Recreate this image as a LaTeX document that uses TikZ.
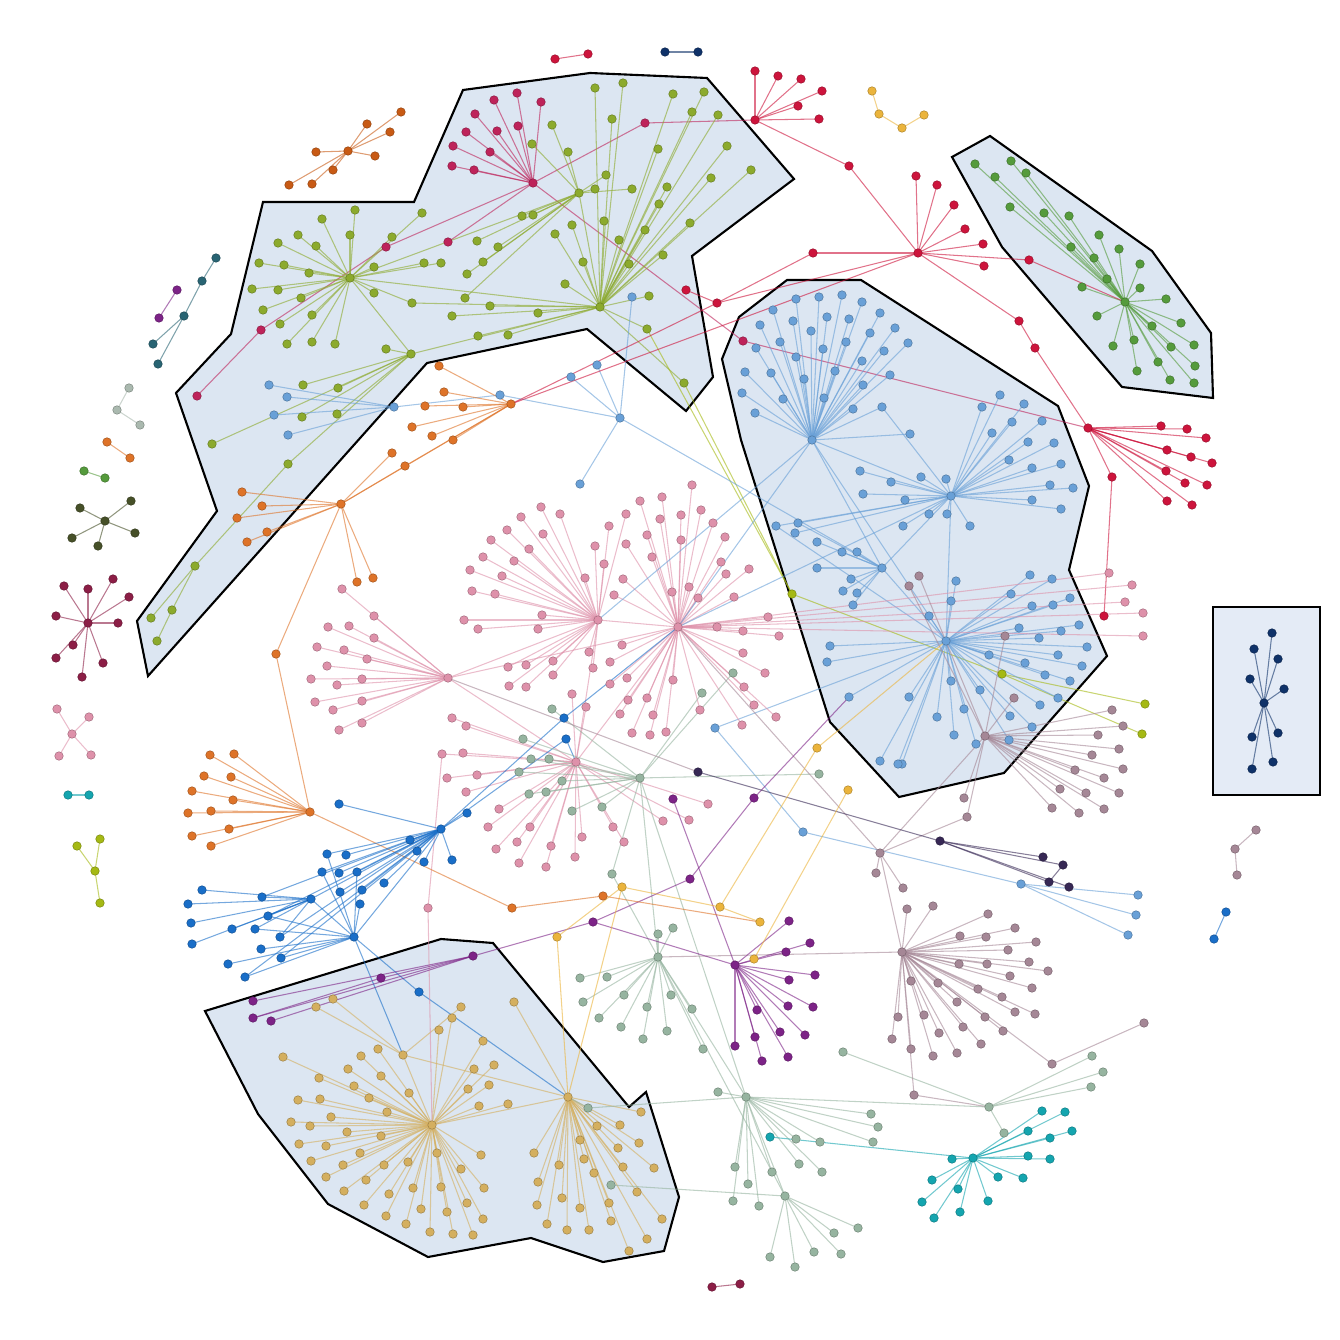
\documentclass[tikz,border=0pt]{standalone}

\definecolor{crimson}{RGB}{205,20,60}
\definecolor{rose}{RGB}{190,35,90}
\definecolor{olive}{RGB}{140,170,45}
\definecolor{leaf}{RGB}{85,155,60}
\definecolor{sky}{RGB}{105,160,215}
\definecolor{blush}{RGB}{222,145,170}
\definecolor{amber}{RGB}{222,115,40}
\definecolor{rust}{RGB}{200,90,20}
\definecolor{cobalt}{RGB}{25,110,200}
\definecolor{sand}{RGB}{212,175,95}
\definecolor{sage}{RGB}{150,180,160}
\definecolor{mauve}{RGB}{165,135,150}
\definecolor{plum}{RGB}{125,35,135}
\definecolor{lagoon}{RGB}{20,165,175}
\definecolor{ink}{RGB}{15,50,105}
\definecolor{dusk}{RGB}{55,40,85}
\definecolor{honey}{RGB}{235,180,60}
\definecolor{lime}{RGB}{165,185,20}
\definecolor{slate}{RGB}{40,100,115}
\definecolor{ash}{RGB}{170,185,175}
\definecolor{moss}{RGB}{70,80,40}
\definecolor{wine}{RGB}{140,30,70}
\definecolor{hullfill}{RGB}{220,230,242}
\definecolor{boxfill}{RGB}{228,235,246}

\tikzset
{
  dot/.style={circle,inner sep=0pt,minimum size=0.085cm,fill=#1,draw=#1!75!black,line width=0.15pt},
  link/.style={draw=#1,line width=0.3pt,draw opacity=0.6},
  hull/.style={draw=black,line width=0.6pt,fill=hullfill,line join=miter}
}

% three passes over the same data: points, links, dots
% cluster: name, colour, hub x, hub y, leaves x/y
\newcommand\clusterpoints[5]{%
  \coordinate (#1) at (#3,#4);
  \foreach \x/\y [count=\i] in {#5} \coordinate (#1-\i) at (\x,\y);}
\newcommand\clusterlinks[5]{%
  \foreach \x/\y [count=\i] in {#5} \draw[link=#2] (#1) -- (#1-\i);}
\newcommand\clusterdots[5]{%
  \node[dot=#2] (#1 dot) at (#1) {};
  \foreach \x/\y [count=\i] in {#5} \node[dot=#2] (#1-\i dot) at (#1-\i) {};}
% single: name, colour, x, y
\newcommand\singlepoint[4]{\coordinate (#1) at (#3,#4);}
\newcommand\singledot[4]{\node[dot=#2] (#1 dot) at (#1) {};}
% extra links: colour, pairs a/b
\newcommand\extralinks[2]{\foreach \a/\b in {#2} \draw[link=#1] (\a) -- (\b);}
\newcommand\skipfour[4]{}
\newcommand\skiptwo[2]{}

\newcommand\graphdata{%
  % crimson
  \cluster{ca}{rose}{533}{183}{517/93, 494/100, 541/102, 475/114, 497/131, 518/126, 466/132, 453/146,
    490/152, 452/166, 474/170, 448/242, 645/123}
  \cluster{cc}{crimson}{755}{120}{755/71, 778/76, 801/79, 822/91, 798/106, 819/119, 849/166}
  \cluster{cd}{crimson}{918}{253}{916/176, 937/185, 954/205, 965/229, 983/244, 984/266, 813/253,
    1029/260, 1019/321}
  \cluster{cf}{crimson}{1088}{428}{1161/426, 1187/429, 1206/438, 1167/450, 1191/457, 1212/463,
    1166/471, 1185/483, 1207/485, 1167/501, 1192/505, 1112/477}
  \single{c1}{rose}{386}{247}
  \single{c2}{rose}{261}{330}
  \single{c3}{rose}{197}{396}
  \single{cx}{rose}{743}{341}
  \single{c4}{crimson}{1035}{348}
  \single{ce1}{crimson}{717}{303}
  \single{ce2}{crimson}{686}{290}
  \single{cg}{crimson}{1104}{616}
  \links{rose}{ca/c1, c1/c2, c2/c3, ca/cx, cx/cf, ca-13/cc}
  \links{crimson}{cc-7/cd, cd-9/c4, c4/cf, cd-7/ce1, cd/ce1, ce1/ce2, cf-12/cg}
  % olive
  \cluster{oa}{olive}{350}{278}{355/210, 322/219, 298/235, 350/235, 278/243, 316/246, 259/263,
    284/265, 309/273, 374/267, 252/289, 278/290, 301/298, 374/293, 263/310, 312/315, 280/324,
    412/303, 287/344, 312/342, 335/344, 392/237, 422/213, 424/263, 441/263}
  \cluster{ob}{olive}{600}{307}{565/284, 583/262, 538/313, 490/306, 508/335, 478/336, 452/316,
    604/221, 619/240, 629/264, 645/230, 663/255, 690/223, 711/178, 751/170, 649/296, 647/329,
    684/383, 727/146, 718/115, 692/112, 704/92, 673/94, 667/187, 658/149, 659/204, 623/83,
    595/88, 612/119, 572/225, 555/234}
  \cluster{oc}{olive}{579}{193}{522/216, 533/215, 532/144, 552/125, 568/152, 498/247, 483/262,
    477/241, 467/274, 465/298, 595/189, 606/175, 632/189}
  \cluster{od}{olive}{411}{354}{386/349, 303/385, 338/388, 302/417, 337/414, 212/444, 288/464}
  \single{o2}{olive}{195}{566}
  \single{o3}{olive}{172}{610}
  \single{o4}{olive}{151}{618}
  \single{o5}{olive}{157}{641}
  \links{olive}{oa/ob, oa/oc, ob/oc, od/ob, od/oa, od-7/o2, o2/o3, o2/o4, o3/o5, oa-18/ob}
  \single{v1}{lime}{792}{594}
  \single{v2}{lime}{1002}{674}
  \single{v3}{lime}{1145}{704}
  \single{v4}{lime}{1142}{734}
  \links{lime}{ob-18/v1, v1/v2, v2/v3, v2/v4, ob-17/v1}
  % green
  \cluster{gr}{leaf}{1125}{302}{975/164, 1011/161, 995/177, 1026/173, 1010/207, 1044/213, 1069/216,
    1099/235, 1119/249, 1071/247, 1094/258, 1140/264, 1107/279, 1082/287, 1140/288, 1166/299,
    1097/316, 1181/323, 1152/326, 1134/340, 1113/346, 1194/345, 1171/347, 1158/362, 1195/366,
    1137/371, 1170/380, 1194/383}
  \links{crimson}{cd-8/gr}
  % sky blue
  \cluster{ba}{sky}{812}{440}{796/299, 819/297, 842/295, 862/302, 773/310, 793/321, 827/317,
    849/319, 880/313, 895/328, 760/325, 811/331, 870/333, 780/342, 846/342, 756/348, 823/349,
    884/351, 796/357, 862/361, 745/372, 771/373, 835/371, 890/375, 804/379, 742/393, 863/385,
    783/399, 824/398, 882/407, 755/413, 853/409, 910/434, 908/343}
  \cluster{bb}{sky}{951}{496}{1009/460, 1032/468, 1061/464, 1050/485, 1073/488, 1032/500, 1061/509,
    921/477, 946/479, 905/500, 929/514, 947/514, 903/526, 970/526, 1000/395, 1024/404, 982/407,
    1042/421, 1012/422, 992/433, 1028/442, 1054/443, 776/526, 798/523, 795/533, 860/471,
    863/494, 891/482}
  \cluster{bc}{sky}{946}{641}{1030/575, 1052/579, 1011/594, 951/601, 956/581, 929/616, 1032/606,
    1053/605, 1070/598, 1019/628, 1061/631, 1079/625, 1039/638, 1087/647, 989/655, 1058/655,
    1025/663, 1082/666, 1045/675, 1070/681, 951/681, 980/690, 1058/698, 909/697, 964/709,
    1040/705, 937/717, 1010/716, 1032/727, 954/735, 976/744, 1009/740, 902/764, 830/646,
    827/662, 849/697, 880/761, 898/764}
  \cluster{bd}{sky}{882}{568}{817/542, 842/552, 857/552, 817/568, 851/579, 843/591, 857/593, 853/605}
  \cluster{la}{sky}{620}{418}{580/484, 571/377, 597/365, 632/297}
  \cluster{lb}{sky}{394}{407}{269/385, 287/397, 274/415, 288/435, 500/395}
  \cluster{lc}{sky}{1021}{884}{1138/895, 1136/915, 1128/935, 803/832}
  \single{l1}{sky}{715}{728}
  \links{sky}{ba/bb, ba/bc, bb/bc, bb/bd, bd/bc, la/lb-5, la/bd, l1/bc, bb-23/bc, bb-24/bd,
    ba-30/bb, ba/bd, lc-4/l1}
  % pink
  \cluster{pa}{blush}{448}{678}{342/589, 374/616, 328/627, 349/626, 374/638, 317/647, 344/650,
    367/659, 327/666, 311/679, 337/685, 362/679, 315/702, 333/710, 362/701, 339/730, 362/723}
  \cluster{pb}{blush}{598}{620}{521/517, 541/507, 560/514, 529/549, 543/534, 514/561, 502/576,
    491/540, 483/557, 470/570, 472/591, 495/594, 507/530, 542/615, 538/629, 585/578, 595/546,
    604/564, 609/526, 626/514, 464/620, 478/629, 508/667, 526/665, 553/661, 553/675, 509/686,
    526/687, 589/652, 593/668}
  \cluster{pc}{blush}{678}{627}{662/497, 681/515, 660/519, 701/510, 713/523, 692/485, 647/535,
    681/540, 725/537, 652/557, 721/562, 749/569, 689/587, 726/574, 672/592, 698/598, 734/597,
    768/617, 717/627, 743/631, 779/636, 743/653, 765/673, 744/687, 754/705, 776/717, 742/725,
    700/710, 673/680, 666/732, 650/735, 632/733, 647/698, 628/700, 627/678, 620/714, 653/715,
    610/684, 622/645, 610/662, 626/544, 623/579, 614/595, 640/501, 1109/573, 1132/585,
    1125/602, 1143/613, 1143/636}
  \cluster{pd}{blush}{576}{762}{463/753, 477/775, 466/792, 499/809, 488/827, 530/827, 517/842,
    496/849, 519/863, 546/867, 551/846, 575/857, 582/837, 613/827, 624/842, 663/821, 689/820,
    708/804, 466/726, 452/718, 572/694, 586/707, 442/754, 447/778}
  \single{pe}{blush}{428}{908}
  \links{blush}{pa/pb, pb/pc, pc/pd, pd/pb, pa/pd, pa/pc, pd-23/pe}
  \links{sky}{ba/pc, bb/pc, ba/pb}
  % orange
  \cluster{ra}{amber}{341}{504}{242/492, 262/506, 237/518, 267/532, 247/542, 357/582, 373/578,
    276/654, 392/453, 405/466}
  \cluster{rb}{amber}{511}{404}{439/366, 444/392, 425/406, 412/427, 432/436, 453/440, 463/407}
  \cluster{rc}{amber}{310}{812}{210/755, 234/754, 204/776, 231/777, 192/791, 233/800, 188/813,
    211/811, 229/829, 192/836, 211/846, 512/908}
  \single{rd}{amber}{603}{896}
  \links{amber}{ra/rb, ra-8/rc, rc-12/rd, ra-10/rb}
  \links{crimson}{rb/ce1, rb/cd}
  % blue
  \cluster{da}{cobalt}{441}{829}{339/804, 410/840, 417/851, 424/862, 327/854, 346/855, 322/872,
    339/873, 357/872, 384/883, 362/890, 340/892, 452/860, 564/718, 566/739, 467/813}
  \cluster{db}{cobalt}{311}{899}{202/890, 188/904, 262/897, 191/923, 268/916, 232/929, 255/929,
    192/944, 280/937}
  \cluster{dc}{cobalt}{354}{937}{261/949, 228/964, 281/958, 245/977, 360/904, 419/992}
  \links{cobalt}{da/db, da/dc, db/dc, da/db-3, da/db-5, da/db-9, da/dc-3, da/dc-4, dc/db-5,
    dc/db-7, da-14/pc, da-15/pd, dc/da-5, dc/da-7, dc/da-9}
  % gold
  \cluster{ya}{sand}{432}{1125}{283/1057, 361/1056, 378/1049, 348/1069, 381/1076, 319/1078,
    354/1086, 409/1093, 298/1100, 320/1099, 369/1098, 387/1112, 331/1117, 291/1122, 310/1126,
    347/1132, 381/1136, 299/1144, 326/1146, 360/1153, 437/1153, 311/1161, 343/1165, 384/1165,
    408/1162, 326/1177, 366/1180, 344/1191, 389/1194, 413/1188, 441/1187, 364/1205, 386/1216,
    406/1224, 421/1209, 430/1232, 447/1212, 439/1030, 452/1018, 483/1041, 494/1065, 474/1069,
    489/1085, 468/1089, 508/1104, 479/1106, 481/1155, 461/1169, 484/1188, 467/1203, 483/1219,
    453/1234, 473/1235}
  \cluster{yc}{sand}{403}{1055}{316/1007, 333/999, 461/1007}
  \cluster{yb}{sand}{568}{1097}{514/1002, 641/1112, 597/1126, 620/1125, 580/1140, 639/1143,
    618/1148, 534/1153, 584/1159, 559/1165, 623/1167, 654/1168, 594/1173, 538/1182, 637/1192,
    537/1205, 562/1198, 580/1208, 609/1203, 547/1224, 567/1230, 589/1230, 611/1221, 662/1219,
    647/1239, 629/1251}
  \links{sand}{ya/yb, yc/ya, yc/yb}
  \links{cobalt}{dc-6/yb, dc/yc}
  \links{blush}{pe/ya}
  % sage
  \cluster{sa}{sage}{658}{957}{658/934, 673/928, 580/978, 607/977, 583/1002, 624/995, 647/1007,
    671/995, 599/1018, 621/1027, 692/1009, 643/1039, 667/1031, 703/1049}
  \cluster{sb}{sage}{746}{1097}{718/1092, 871/1114, 878/1127, 873/1142, 796/1139, 820/1142,
    735/1167, 772/1172, 799/1164, 822/1172, 748/1184, 733/1201, 759/1206, 588/1108}
  \cluster{sc}{sage}{785}{1196}{858/1228, 834/1233, 841/1254, 814/1252, 770/1257, 795/1267, 611/1185}
  \cluster{sd}{sage}{989}{1107}{1092/1056, 1103/1072, 1091/1087, 1004/1133, 843/1052}
  \cluster{se}{sage}{640}{778}{552/709, 523/739, 531/759, 549/759, 519/772, 562/781, 529/794,
    546/792, 572/811, 602/807, 702/693, 733/673, 819/774, 612/874}
  \links{sage}{sa/sb, sb/sc, sb/sd, se/sa, sa/sc, se/sb, sb-14/yb, se-14/sa}
  % mauve
  \cluster{ma}{mauve}{902}{952}{988/914, 1015/928, 960/936, 986/937, 1036/942, 1008/950, 959/964,
    987/964, 1029/962, 1048/971, 1010/976, 1032/988, 911/981, 938/983, 978/989, 1002/997,
    957/1002, 985/1017, 1015/1012, 1035/1014, 898/1017, 924/1015, 963/1027, 1003/1031, 939/1033,
    892/1039, 981/1044, 911/1049, 933/1056, 957/1053, 907/909, 933/906, 914/1095, 1052/1064}
  \cluster{mb}{mauve}{880}{853}{876/873, 903/888}
  \cluster{mc}{mauve}{985}{736}{1112/710, 1123/726, 1098/735, 1119/749, 1092/755, 1123/769,
    1075/770, 1104/778, 1060/789, 1086/793, 1119/793, 1052/808, 1079/813, 1104/809, 1014/698,
    1005/636, 919/576, 909/586, 964/798, 967/817}
  \single{m1}{mauve}{1144}{1023}
  \links{mauve}{ma/mb, mb/mc-20, mc/mb, ma-34/m1, ma-33/sd, mb/pc, ma/sa}
  % purple
  \cluster{ua}{plum}{735}{965}{789/921, 810/943, 786/952, 815/975, 789/980, 788/1006, 813/1007,
    757/1010, 780/1032, 805/1035, 735/1046, 755/1037, 762/1061, 788/1057}
  \cluster{ub}{plum}{473}{956}{381/978, 253/1001, 253/1018, 271/1021}
  \single{u1}{plum}{754}{798}
  \single{u2}{plum}{690}{879}
  \single{u3}{plum}{593}{922}
  \single{u4}{plum}{673}{799}
  \links{plum}{ua/u3, u1/u2, u2/u3, u3/ub, ua/u4, u1/bc-36, ub-1/ub-3}
  % teal
  \cluster{ta}{lagoon}{973}{1158}{1042/1111, 1065/1112, 1028/1131, 1072/1131, 1050/1138, 1028/1156,
    1050/1159, 952/1159, 1023/1178, 998/1177, 932/1180, 958/1189, 922/1202, 988/1201, 960/1212,
    934/1218, 770/1137}
  % boxed
  \cluster{na}{ink}{1264}{703}{1272/633, 1254/649, 1278/659, 1250/679, 1284/689, 1252/737,
    1278/733, 1273/762, 1252/769}
  % dusk chain
  \single{k1}{dusk}{698}{772}
  \single{k2}{dusk}{940}{841}
  \single{k3}{dusk}{1043}{857}
  \single{k4}{dusk}{1063}{865}
  \single{k5}{dusk}{1049}{882}
  \single{k6}{dusk}{1069}{887}
  \links{dusk}{k1/k2, k2/k3, k2/k4, k2/k5, k2/k6, k5/k4}
  \links{mauve}{pa/k1}
  % honey
  \single{q1}{honey}{817}{748}
  \single{q2}{honey}{848}{790}
  \single{q3}{honey}{622}{887}
  \single{q4}{honey}{720}{907}
  \single{q5}{honey}{760}{922}
  \single{q6}{honey}{557}{937}
  \single{q7}{honey}{754}{959}
  \links{honey}{q3/q4, q4/q5, q4/q1, q2/q7, q6/yb, q6/q3, q3/yb, q1/bc}
  \links{amber}{rd/q5}
  % small components
  \cluster{xa}{crimson}{555}{59}{588/54}
  \cluster{xb}{ink}{665}{52}{698/52}
  \cluster{xc}{honey}{879}{114}{872/91, 902/128}
  \single{xc3}{honey}{924}{115}
  \links{honey}{xc-2/xc3}
  \cluster{xd}{rust}{348}{151}{367/124, 401/112, 390/132, 316/152, 375/156, 333/170, 289/185, 312/184}
  \cluster{xe}{plum}{177}{290}{159/318}
  \cluster{xf}{slate}{184}{316}{202/281, 153/344, 158/364}
  \single{xf4}{slate}{216}{258}
  \links{slate}{xf-1/xf4}
  \cluster{xg}{ash}{117}{410}{129/388, 140/425}
  \cluster{xh}{amber}{107}{442}{130/458}
  \cluster{xi}{leaf}{84}{471}{105/478}
  \cluster{xj}{moss}{105}{521}{80/508, 131/501, 72/538, 135/533, 98/546}
  \cluster{xk}{wine}{88}{623}{64/586, 88/589, 113/579, 129/597, 56/616, 118/623, 73/645, 56/658,
    103/663, 82/677}
  \cluster{xl}{blush}{72}{734}{57/709, 89/717, 59/756, 91/755}
  \cluster{xm}{lagoon}{68}{795}{89/795}
  \cluster{xn}{lime}{95}{871}{77/846, 100/839, 100/903}
  \cluster{xo}{mauve}{1235}{849}{1256/830, 1237/875}
  \cluster{xp}{cobalt}{1226}{912}{1214/939}
  \cluster{xq}{wine}{712}{1287}{740/1284}
}

\begin{document}
\begin{tikzpicture}[x=0.01cm,y=-0.01cm]
  \useasboundingbox (0,0) rectangle (1340,1340);
  % hulls
  \draw[hull] (148,676) -- (137,621) -- (217,511) -- (176,393) -- (231,334) -- (263,202)
    -- (414,202) -- (463,90) -- (590,73) -- (707,78) -- (794,179) -- (692,256)
    -- (713,377) -- (686,411) -- (587,329) -- (427,363) -- cycle;
  \draw[hull] (952,157) -- (990,136) -- (1152,251) -- (1211,333) -- (1213,398)
    -- (1122,387) -- (1002,247) -- cycle;
  \draw[hull] (722,359) -- (739,317) -- (787,280) -- (861,280) -- (1058,406)
    -- (1089,486) -- (1069,570) -- (1107,656) -- (1004,773) -- (899,797)
    -- (830,722) -- (741,440) -- cycle;
  \draw[hull] (205,1011) -- (441,939) -- (493,943) -- (629,1107) -- (646,1092)
    -- (679,1197) -- (664,1251) -- (603,1262) -- (531,1238) -- (428,1257)
    -- (328,1204) -- (258,1114) -- cycle;
  \draw[hull,fill=boxfill] (1213,607) rectangle (1320,795);
  % points
  \let\cluster\clusterpoints \let\single\singlepoint \let\links\skiptwo
  \graphdata
  % links
  \let\cluster\clusterlinks \let\single\skipfour \let\links\extralinks
  \graphdata
  % dots
  \let\cluster\clusterdots \let\single\singledot \let\links\skiptwo
  \graphdata
\end{tikzpicture}
\end{document}
